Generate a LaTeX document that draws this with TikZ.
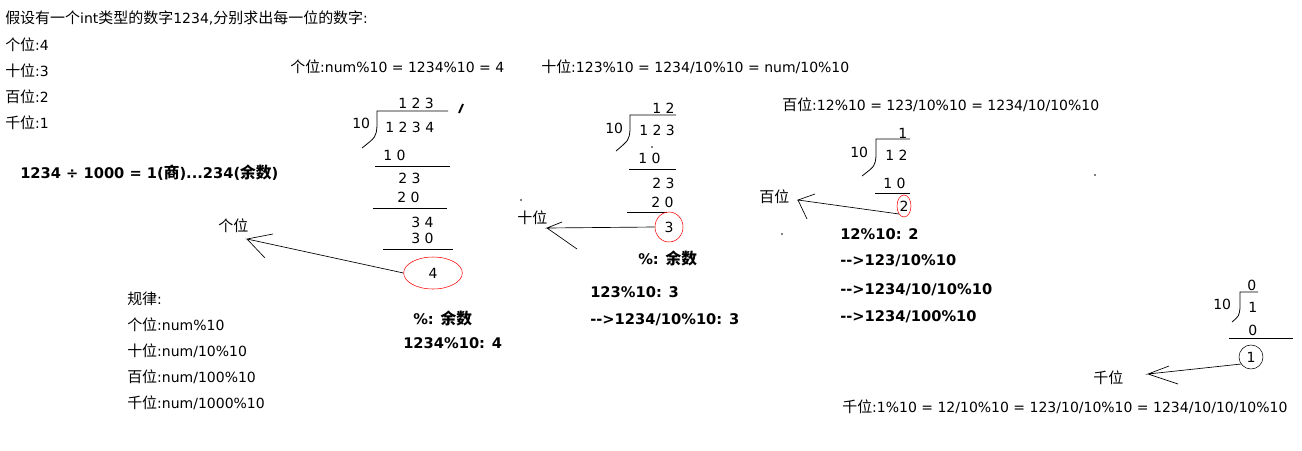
\documentclass[tikz,border=0pt]{standalone}
\usepackage{fontspec}
\setmainfont{DejaVu Sans}
\newfontfamily\cjk{Noto Sans CJK SC}[Scale=1.07]
\newcommand\zh[1]{{\cjk #1}}
\usetikzlibrary{shapes.geometric}
\begin{document}
\begin{tikzpicture}[x=0.75pt, y=-0.75pt,
    every node/.style={font=\fontsize{10.5}{13}\selectfont, inner sep=0pt},
    txt/.style={anchor=west},
    bold/.style={anchor=west, font=\fontsize{11}{13}\selectfont\bfseries},
    rem/.style={draw=red, ellipse, inner sep=0pt},
    bar/.style={line width=0.6pt},
    ptr/.style={line width=0.5pt},
  ]
  \useasboundingbox (0,0) rectangle (1302,450);

  % question and answers
  \node[txt] (intro) at (5,18) {\zh{假设有一个}int\zh{类型的数字}1234,\zh{分别求出每一位的数字}:};
  \node[txt] (ans1) at (5,45) {\zh{个位}:4};
  \node[txt] (ans2) at (5,71) {\zh{十位}:3};
  \node[txt] (ans3) at (5,97) {\zh{百位}:2};
  \node[txt] (ans4) at (5,123) {\zh{千位}:1};
  \node[bold] (divide) at (20,173) {1234 ÷ 1000 = 1(\zh{商})...234(\zh{余数})};

  % formulas
  \node[txt] (f1) at (290,67) {\zh{个位}:num\%10 = 1234\%10 = 4};
  \node[txt] (f2) at (541,67) {\zh{十位}:123\%10 = 1234/10\%10 = num/10\%10};
  \node[txt] (f3) at (782,105) {\zh{百位}:12\%10 = 123/10\%10 = 1234/10/10\%10};
  \node[txt] (f4) at (842,407) {\zh{千位}:1\%10 = 12/10\%10 = 123/10/10\%10 = 1234/10/10/10\%10};

  % rule
  \node[txt] (rule) at (127,299) {\zh{规律}:};
  \node[txt] (rule1) at (127,325) {\zh{个位}:num\%10};
  \node[txt] (rule2) at (127,351) {\zh{十位}:num/10\%10};
  \node[txt] (rule3) at (127,377) {\zh{百位}:num/100\%10};
  \node[txt] (rule4) at (127,403) {\zh{千位}:num/1000\%10};

  % first division 1234/10
  \node[txt] (q1) at (398,103) {1 2 3};
  \node[txt] (dv1) at (352,123) {10};
  \node[txt] (n1) at (385,127) {1 2 3 4};
  \draw[bar] (448,111) -- (377,111) -- (377,126) .. controls (376,137) .. (362,148);
  \draw[line width=1.4pt] (463,104) -- (459,113);
  \node[txt] at (383,155) {1 0};
  \draw[bar] (375,166) -- (450,166);
  \node[txt] at (398,178) {2 3};
  \node[txt] at (397,197) {2 0};
  \draw[bar] (373,208) -- (447,208);
  \node[txt] at (411,222) {3 4};
  \node[txt] at (411,238) {3 0};
  \draw[bar] (383,249) -- (453,249);
  \node[rem, minimum width=44pt, minimum height=24pt] (r4) at (433,273) {4};
  \node[bold] (mod1) at (413,318) {\%: \zh{余数}};
  \node[bold] (res1) at (403,343) {1234\%10: 4};

  % second division 123/10
  \node[txt] (q2) at (652,108) {1 2};
  \node[txt] (dv2) at (605,128) {10};
  \node[txt] (n2) at (639,130) {1 2 3};
  \draw[bar] (676,115) -- (630,115) -- (630,130) .. controls (629,140) .. (616,151);
  \node[txt] at (638,158) {1 0};
  \draw[bar] (629,169) -- (676,169);
  \node[txt] at (652,183) {2 3};
  \node[txt] at (651,202) {2 0};
  \draw[bar] (627,212) -- (667,212);
  \node[rem, minimum width=21pt, minimum height=22.5pt] (r3) at (669,227) {3};
  \node[bold] (mod2) at (638,258) {\%: \zh{余数}};
  \node[bold] (res2) at (590,292) {123\%10: 3};
  \node[bold] (res2b) at (590,320) {-\kern0pt->1234/10\%10: 3};

  % third division 12/10
  \node[txt] (q3) at (898,133) {1};
  \node[txt] (dv3) at (850,152) {10};
  \node[txt] (n3) at (885,155) {1 2};
  \draw[bar] (910,139) -- (876,139) -- (876,156) .. controls (875,166) .. (862,176);
  \node[txt] at (883,183) {1 0};
  \draw[bar] (875,193) -- (910,193);
  \node[rem, minimum width=10.5pt, minimum height=16.5pt] (r2) at (904,206) {2};
  \node[bold] (res3) at (840,234) {12\%10: 2};
  \node[bold] (res3b) at (840,261) {-\kern0pt->123/10\%10};
  \node[bold] (res3c) at (840,290) {-\kern0pt->1234/10/10\%10};
  \node[bold] (res3d) at (840,317) {-\kern0pt->1234/100\%10};

  % fourth division 1/10
  \node[txt] (q4) at (1247,285) {0};
  \node[txt] (dv4) at (1213,304) {10};
  \node[txt] (n4) at (1248,307) {1};
  \draw[bar] (1258,292) -- (1240,292) -- (1240,308) .. controls (1239,316) .. (1232,322);
  \node[txt] at (1248,330) {0};
  \draw[bar] (1229,338) -- (1293,338);
  \node[draw, circle, minimum size=18pt] (r1) at (1251,357) {1};

  % pointers
  \node[txt] (ge) at (218,226) {\zh{个位}};
  \node[txt] (shi) at (517,218) {\zh{十位}};
  \node[txt] (bai) at (759,197) {\zh{百位}};
  \node[txt] (qian) at (1093,378) {\zh{千位}};
  \coordinate (tip4) at (247,239);
  \coordinate (tip3) at (547,228);
  \coordinate (tip2) at (798,200);
  \coordinate (tip1) at (1148,374);
  \draw[ptr] (r4.west) -- (tip4) -- ++(26,-5) (tip4) -- ++(18,19);
  \draw[ptr] (r3.west) -- (tip3) -- ++(15,-6) (tip3) -- ++(30,21);
  \draw[ptr] (r2.south west) -- (tip2) -- ++(17,-6) (tip2) -- ++(9,19);
  \draw[ptr] (r1.215) -- (tip1) -- ++(21,-8) (tip1) -- ++(30,10);

  % stray dots
  \foreach \p in {(521,200),(652,147),(782,234),(1095,175)}
    \fill \p circle (0.6pt);
\end{tikzpicture}
\end{document}
